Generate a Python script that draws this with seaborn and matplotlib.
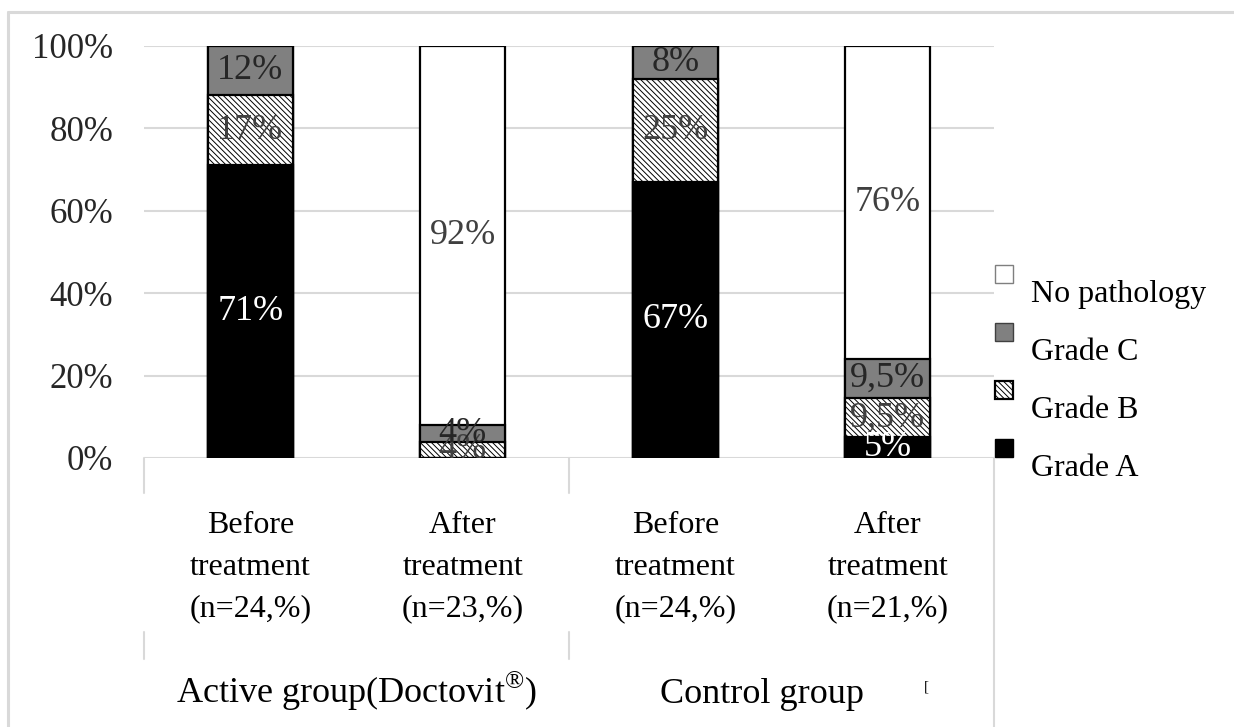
import numpy as np
import pandas as pd
import matplotlib
matplotlib.use("Agg")
import matplotlib.pyplot as plt
import matplotlib.transforms as mtransforms
from matplotlib.patches import Rectangle, Patch
from matplotlib.lines import Line2D
from matplotlib.legend_handler import HandlerPatch
import seaborn as sns

# ---- data (percent of patients per severity grade) ----
categories = ["Before\ntreatment\n(n=24,%)", "After\ntreatment\n(n=23,%)",
              "Before\ntreatment\n(n=24,%)", "After\ntreatment\n(n=21,%)"]
grade_a = [71, 0, 67, 5]
grade_b = [17, 4, 25, 9.5]
grade_c = [12, 4, 8, 9.5]
no_pathology = [0, 92, 0, 76]
groups = ["Active group(Doctovit$^{\u00ae}$)", "Control group"]
y_ticks = [0, 20, 40, 60, 80, 100]

sns.set_theme(style="white")
plt.rcParams["font.family"] = ["Liberation Serif", "DejaVu Serif"]
plt.rcParams["hatch.linewidth"] = 0.7
plt.rcParams["mathtext.fontset"] = "custom"
plt.rcParams["mathtext.rm"] = "Liberation Serif"

HATCH = "\\\\\\\\\\\\"

fig = plt.figure(figsize=(12.34, 7.27), dpi=100)
ax = fig.add_axes([144 / 1234, 1 - 458 / 727, (994 - 144) / 1234, 412 / 727])

x_keys = [f"c{i}" for i in range(len(categories))]
segments = [
    ("Grade A", np.array(grade_a, float), "black", None, "white"),
    ("Grade B", np.array(grade_b, float), "white", HATCH, "#404040"),
    ("Grade C", np.array(grade_c, float), "#808080", None, "#262626"),
    ("No pathology", np.array(no_pathology, float), "white", None, "#404040"),
]
tops = np.cumsum([s[1] for s in segments], axis=0)
bottoms = tops - np.array([s[1] for s in segments])

# stacked bars: draw cumulative heights from tallest to shortest
for (name, vals, face, hatch, _), top in list(zip(segments, tops))[::-1]:
    df = pd.DataFrame({"cat": x_keys, "val": top})
    sns.barplot(data=df, x="cat", y="val", order=x_keys, color=face,
                saturation=1, width=0.4, edgecolor="black", linewidth=1.6,
                hatch=hatch, errorbar=None, ax=ax, zorder=3)

# value labels in each segment
for (name, vals, face, hatch, tcol), bot, top in zip(segments, bottoms, tops):
    for i, v in enumerate(vals):
        if v <= 0:
            continue
        txt = f"{v:g}".replace(".", ",") + "%"
        ax.text(i, (bot[i] + top[i]) / 2, txt, ha="center", va="center",
                fontsize=26, color=tcol, zorder=5)

ax.set_ylim(0, 100)
ax.set_xlim(-0.5, len(categories) - 0.5)
ax.set_yticks(y_ticks)
ax.set_yticklabels([f"{t}%" for t in y_ticks], fontsize=25, color="#262626")
ax.set_xticks(range(len(categories)))
ax.set_xticklabels(categories, fontsize=23, color="black", linespacing=1.58)
ax.tick_params(axis="x", length=0, pad=38)
ax.tick_params(axis="y", length=0, pad=22)
ax.set_xlabel("")
ax.set_ylabel("")
ax.yaxis.grid(True, color="#d9d9d9", linewidth=1.5, zorder=0)
ax.xaxis.grid(False)
ax.set_axisbelow(True)
for sp in ax.spines.values():
    sp.set_visible(False)

# category separators below the axis
trans = mtransforms.blended_transform_factory(ax.transData, ax.transAxes)
for xs in (-0.5, 1.5):
    ax.plot([xs, xs], [0, -0.085], color="#d9d9d9", lw=1.5, transform=trans, clip_on=False)
    ax.plot([xs, xs], [-0.422, -0.488], color="#d9d9d9", lw=1.5, transform=trans, clip_on=False)
ax.plot([3.5, 3.5], [0, -0.70], color="#d9d9d9", lw=1.5, transform=trans, clip_on=False)

# group labels
ax.text(0.5, -0.595, groups[0], transform=trans, ha="center", va="baseline",
        fontsize=26, color="black")
ax.text(2.41, -0.595, groups[1], transform=trans, ha="center", va="baseline",
        fontsize=26, color="black")
ax.text(3.18, -0.565, "[", transform=trans, ha="center", va="baseline",
        fontsize=11, color="black")

# legend with markers set slightly above their labels
def raised_square(legend, orig_handle, xdescent, ydescent, width, height, fontsize):
    s = 13.0
    return Rectangle((-xdescent, -ydescent + (height - s) / 2 + 12), s, s)

handles = [
    Patch(facecolor="white", edgecolor="#7f7f7f", linewidth=1.0, label="No pathology"),
    Patch(facecolor="#808080", edgecolor="#404040", linewidth=1.0, label="Grade C"),
    Patch(facecolor="white", edgecolor="black", hatch=HATCH, linewidth=1.6, label="Grade B"),
    Patch(facecolor="black", edgecolor="black", linewidth=1.0, label="Grade A"),
]
leg = fig.legend(handles=handles, loc="upper left",
                 bbox_to_anchor=(969 / 1234, 1 - 254 / 727), frameon=False,
                 fontsize=23, labelspacing=0.9, handlelength=0.7, handletextpad=0.45,
                 borderpad=0.3,
                 handler_map={Patch: HandlerPatch(patch_func=raised_square)})
for t in leg.get_texts():
    t.set_color("black")

# light frame around the figure
fig.add_artist(Line2D([8 / 1234, 1.0], [1 - 12 / 727, 1 - 12 / 727],
                      color="#d9d9d9", lw=2.2, transform=fig.transFigure))
fig.add_artist(Line2D([8 / 1234, 8 / 1234], [0.0, 1 - 12 / 727],
                      color="#d9d9d9", lw=2.2, transform=fig.transFigure))

fig.savefig("out.png", dpi=100, facecolor="white")
